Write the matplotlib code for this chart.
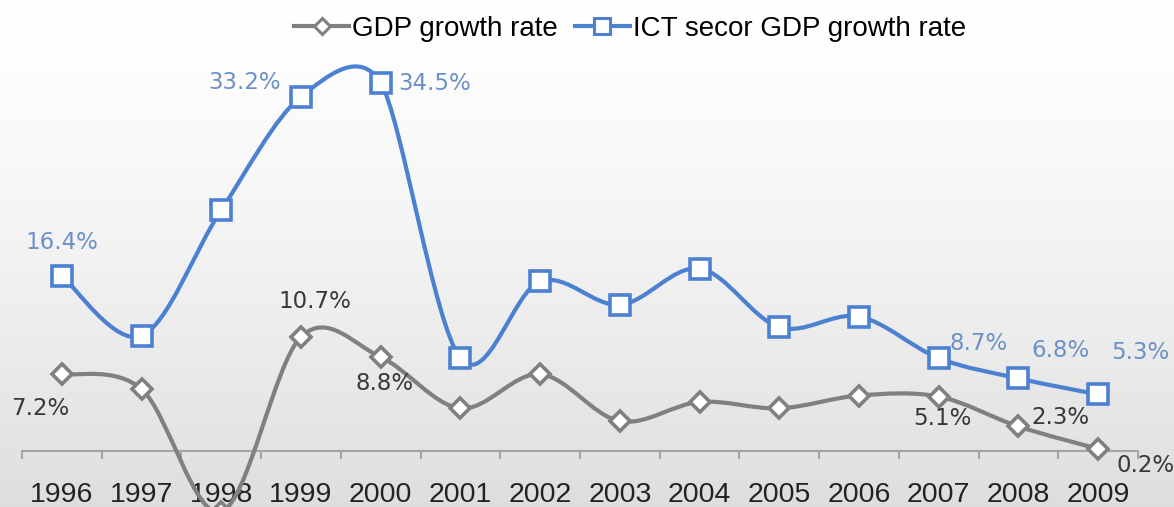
import numpy as np
import matplotlib
matplotlib.use("Agg")
import matplotlib.pyplot as plt
from matplotlib.path import Path
from matplotlib.patches import PathPatch
from matplotlib.lines import Line2D

# ---- data ----
years = [1996, 1997, 1998, 1999, 2000, 2001, 2002, 2003,
         2004, 2005, 2006, 2007, 2008, 2009]
gdp_growth = [7.2, 5.8, -5.7, 10.7, 8.8, 4.0, 7.2, 2.8,
              4.6, 4.0, 5.2, 5.1, 2.3, 0.2]
ict_growth = [16.4, 10.8, 22.6, 33.2, 34.5, 8.7, 15.9, 13.7,
              17.1, 11.6, 12.6, 8.7, 6.8, 5.3]

# which points carry a value label, and where the label sits (pixels from point)
gdp_labelled = [1996, 1999, 2000, 2007, 2008, 2009]
gdp_offsets = [(-22, -34), (14, 35), (4, -26), (4, -22), (42, 9), (47, -17)]
ict_labelled = [1996, 1999, 2000, 2007, 2008, 2009]
ict_offsets = [(0, 34), (-56, 14), (54, -1), (40, 15), (42, 28), (42, 42)]

GRAY = '#808080'
BLUE = '#4C80D0'
BLUE_TXT = '#6C91C6'
DARK_TXT = '#383838'

W, H = 1174, 507
fig = plt.figure(figsize=(W / 100, H / 100), dpi=100)

# soft vertical gradient behind everything
bg = fig.add_axes([0, 0, 1, 1], zorder=-1)
t = np.linspace(0, 1, 256)[:, None]
shade = 1 - 0.13 * t ** 1.4
bg.imshow(np.dstack([shade, shade, shade]) * np.ones((1, 2, 1)),
          aspect='auto', extent=[0, 1, 0, 1])
bg.axis('off')

# plot area: category i at pixel 62 + 79.7*i, zero line at pixel row 451
PX_X = 79.7
PX_Y = 10.67
ax = fig.add_axes([22 / W, 0, 1116 / W, 1])
ax.set_facecolor('none')
ax.set_xlim(-0.5, len(years) - 0.5)
ax.set_ylim(-(H - 451) / PX_Y, 451 / PX_Y)


def smooth_path(xs, ys):
    """Bezier 'smoothed line': tension 1/6, control arms capped at half
    the shorter neighbouring segment (measured in screen pixels)."""
    scale = np.array([PX_X, PX_Y])
    pts = np.column_stack([xs, ys]).astype(float) * scale
    n = len(pts)

    def arm(i):
        p0 = pts[max(i - 1, 0)]
        p2 = pts[min(i + 1, n - 1)]
        tan = p2 - p0
        d02 = np.hypot(*tan)
        d01 = np.hypot(*(pts[i] - p0)) if i > 0 else np.inf
        d12 = np.hypot(*(p2 - pts[i])) if i < n - 1 else np.inf
        f = 1 / 6
        lim = 0.5 * min(d01, d12)
        if d02 * f > lim:
            f = lim / d02
        return tan * f

    verts = [pts[0]]
    codes = [Path.MOVETO]
    for i in range(n - 1):
        c1 = pts[i] + arm(i)
        c2 = pts[i + 1] - arm(i + 1)
        verts += [c1, c2, pts[i + 1]]
        codes += [Path.CURVE4] * 3
    return Path(np.array(verts) / scale, codes)


x = np.arange(len(years))
for vals, color, marker, ms in [(gdp_growth, GRAY, 'D', 10),
                                (ict_growth, BLUE, 's', 14)]:
    ax.add_patch(PathPatch(smooth_path(x, vals), fill=False, edgecolor=color,
                           lw=3.0, capstyle='round', joinstyle='round', zorder=3))
    ax.plot(x, vals, ls='none', marker=marker, ms=ms, mfc='white',
            mec=color, mew=2.6, zorder=4)

# value labels
for labelled, offsets, vals, color in [
        (gdp_labelled, gdp_offsets, gdp_growth, DARK_TXT),
        (ict_labelled, ict_offsets, ict_growth, BLUE_TXT)]:
    for yr, (dx, dy) in zip(labelled, offsets):
        i = years.index(yr)
        ax.annotate(f'{vals[i]:.1f}%', (i, vals[i]), xytext=(dx, dy),
                    textcoords='offset pixels', ha='center', va='center',
                    fontsize=16.5, color=color, family='DejaVu Sans', zorder=5)

# category axis crossing at zero, ticks between categories
for side in ['left', 'right', 'top']:
    ax.spines[side].set_visible(False)
ax.spines['bottom'].set_position(('data', 0))
ax.spines['bottom'].set_color('#A6A6A6')
ax.spines['bottom'].set_linewidth(1.5)
ax.set_yticks([])
ax.set_xticks(x)
ax.set_xticklabels([str(y) for y in years], fontsize=20.5,
                   family='Liberation Sans', color='#222222')
ax.tick_params(axis='x', which='major', length=0, pad=22)
ax.set_xticks(np.arange(-0.5, len(years)), minor=True)
ax.tick_params(axis='x', which='minor', length=6, width=1.5,
               color='#A6A6A6', direction='out')

handles = [
    Line2D([], [], color=GRAY, lw=3, marker='D', ms=8, mfc='white',
           mec=GRAY, mew=2.2),
    Line2D([], [], color=BLUE, lw=3, marker='s', ms=11, mfc='white',
           mec=BLUE, mew=2.2),
]
fig.legend(handles, ['GDP growth rate', 'ICT secor GDP growth rate'],
           loc='center', bbox_to_anchor=(630 / W, 1 - 29 / H), ncol=2,
           frameon=False, handlelength=2.0, handletextpad=0.1,
           columnspacing=0.6, prop={'family': 'Liberation Sans', 'size': 20})

fig.savefig('out.png', dpi=100)
